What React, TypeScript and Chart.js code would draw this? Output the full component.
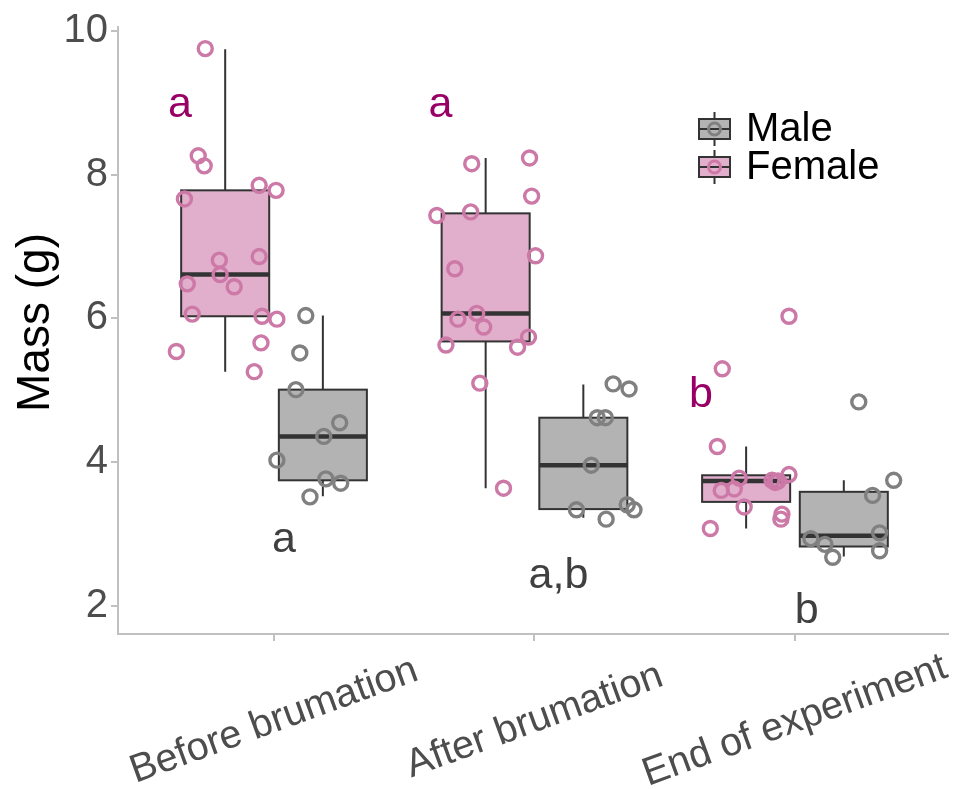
import React, { useEffect, useRef } from 'react';
import { Chart, registerables } from 'chart.js';

Chart.register(...registerables);

const categories = ['Before brumation', 'After brumation', 'End of experiment'];
const yTicks = [2, 4, 6, 8, 10];
const yTitle = 'Mass (g)';

// box stats per category: [lower whisker, q1, median, q3, upper whisker]
const femaleBoxes = [
  [5.26, 6.03, 6.61, 7.78, 9.74],
  [3.64, 5.68, 6.07, 7.46, 8.23],
  [3.08, 3.45, 3.74, 3.82, 4.22],
];
const maleBoxes = [
  [3.53, 3.75, 4.36, 5.01, 6.04],
  [3.23, 3.35, 3.96, 4.62, 5.08],
  [2.69, 2.83, 2.98, 3.59, 3.75],
];

// jittered individual observations (x in category units)
const femaleX = [
  0.736, 0.709, 0.732, 0.943, 1.008, 0.656, 0.943, 0.79, 0.793, 0.667, 0.847, 0.686, 0.954, 1.011, 0.95, 0.625, 0.924,
  1.759, 1.981, 1.989, 1.625, 1.755, 2.004, 1.694, 1.706, 1.778, 1.805, 1.66, 1.935, 1.977, 1.79, 1.881,
  2.977, 2.721, 2.702, 2.786, 2.717, 2.767, 2.912, 2.935, 2.924, 2.977, 2.805, 2.95, 2.946, 2.675,
];
const femaleY = [
  9.75, 8.26, 8.12, 7.85, 7.78, 7.66, 6.86, 6.81, 6.61, 6.48, 6.44, 6.06, 6.03, 5.99, 5.66, 5.54, 5.26,
  8.15, 8.23, 7.7, 7.43, 7.48, 6.87, 6.69, 5.99, 6.07, 5.88, 5.63, 5.6, 5.74, 5.1, 3.64,
  6.03, 5.3, 4.22, 3.78, 3.61, 3.63, 3.75, 3.74, 3.72, 3.83, 3.38, 3.28, 3.21, 3.08,
];
const maleX = [
  1.122, 1.099, 1.084, 1.252, 1.191, 1.011, 1.199, 1.256, 1.138,
  2.302, 2.363, 2.241, 2.272, 2.218, 2.161, 2.356, 2.382, 2.275,
  3.245, 3.379, 3.298, 3.325, 3.325, 3.061, 3.115, 3.145,
];
const maleY = [
  6.04, 5.52, 5.01, 4.55, 4.36, 4.03, 3.77, 3.71, 3.52,
  5.09, 5.02, 4.62, 4.62, 3.96, 3.34, 3.41, 3.34, 3.21,
  4.84, 3.75, 3.54, 3.02, 2.77, 2.94, 2.86, 2.68,
];

// significance letters (baseline positions in data units)
const femaleLetters = ['a', 'a', 'b'];
const femaleLetterX = [0.639, 1.639, 2.639];
const femaleLetterY = [8.8, 8.8, 4.77];
const maleLetters = ['a', 'a,b', 'b'];
const maleLetterX = [1.038, 2.092, 3.045];
const maleLetterY = [2.76, 2.26, 1.77];

const FONT = '"Liberation Sans", Arial, Helvetica, sans-serif';
const PINK_FILL = '#E1AECB';
const GRAY_FILL = '#B3B3B3';
const PINK_PT = '#CC79A7';
const GRAY_PT = '#808080';
const BOX_LINE = '#333333';
const AXIS = '#C0C0C0';
const FEMALE_OFF = -0.1875;
const MALE_OFF = 0.1875;
const HALF_W = 0.169;

const boxPlugin = {
  id: 'boxes',
  beforeDatasetsDraw(chart: any) {
    const { ctx, scales } = chart;
    const x = scales.x;
    const y = scales.y;
    const drawGroup = (boxes: number[][], off: number, fill: string) => {
      boxes.forEach((b, i) => {
        const c = i + 1 + off;
        const cx = x.getPixelForValue(c);
        const x0 = x.getPixelForValue(c - HALF_W);
        const x1 = x.getPixelForValue(c + HALF_W);
        const [lo, q1, med, q3, hi] = b.map((v) => y.getPixelForValue(v));
        ctx.save();
        ctx.strokeStyle = BOX_LINE;
        ctx.lineWidth = 2;
        ctx.beginPath();
        ctx.moveTo(cx, q3);
        ctx.lineTo(cx, hi);
        ctx.moveTo(cx, q1);
        ctx.lineTo(cx, lo);
        ctx.stroke();
        ctx.fillStyle = fill;
        ctx.fillRect(x0, q3, x1 - x0, q1 - q3);
        ctx.strokeRect(x0, q3, x1 - x0, q1 - q3);
        ctx.lineWidth = 4.5;
        ctx.beginPath();
        ctx.moveTo(x0, med);
        ctx.lineTo(x1, med);
        ctx.stroke();
        ctx.restore();
      });
    };
    drawGroup(femaleBoxes, FEMALE_OFF, PINK_FILL);
    drawGroup(maleBoxes, MALE_OFF, GRAY_FILL);
  },
  afterDatasetsDraw(chart: any) {
    const { ctx, scales } = chart;
    const x = scales.x;
    const y = scales.y;
    ctx.save();
    ctx.font = `43px ${FONT}`;
    ctx.textAlign = 'center';
    ctx.textBaseline = 'alphabetic';
    ctx.fillStyle = '#990066';
    femaleLetters.forEach((t, i) => {
      ctx.fillText(t, x.getPixelForValue(femaleLetterX[i]), y.getPixelForValue(femaleLetterY[i]));
    });
    ctx.fillStyle = '#404040';
    maleLetters.forEach((t, i) => {
      ctx.fillText(t, x.getPixelForValue(maleLetterX[i]), y.getPixelForValue(maleLetterY[i]));
    });
    ctx.restore();
  },
  afterDraw(chart: any) {
    const { ctx, scales, chartArea } = chart;
    const x = scales.x;
    // rotated category labels, centred on their ticks
    ctx.save();
    ctx.font = `39.5px ${FONT}`;
    ctx.fillStyle = '#4D4D4D';
    ctx.textAlign = 'center';
    ctx.textBaseline = 'middle';
    categories.forEach((lab, i) => {
      const px = x.getPixelForValue(i + 1);
      ctx.save();
      ctx.translate(px, chartArea.bottom + 87);
      ctx.rotate((-20 * Math.PI) / 180);
      ctx.fillText(lab, 0, 0);
      ctx.restore();
    });
    ctx.restore();

    // y axis title
    ctx.save();
    ctx.font = `46px ${FONT}`;
    ctx.fillStyle = '#000000';
    ctx.textAlign = 'center';
    ctx.textBaseline = 'middle';
    ctx.translate(36, (chartArea.top + chartArea.bottom) / 2 - 8);
    ctx.rotate(-Math.PI / 2);
    ctx.fillText(yTitle, 0, 0);
    ctx.restore();

    // legend
    const items = [
      { label: 'Male', fill: GRAY_FILL, pt: GRAY_PT },
      { label: 'Female', fill: PINK_FILL, pt: PINK_PT },
    ];
    const kx = 699;
    const kw = 31;
    const ky0 = 110;
    const rowH = 38;
    ctx.save();
    items.forEach((it, i) => {
      const top = ky0 + i * rowH;
      const cy = top + rowH / 2;
      const cx = kx + kw / 2;
      ctx.strokeStyle = BOX_LINE;
      ctx.lineWidth = 2;
      ctx.beginPath();
      ctx.moveTo(cx, top + 2);
      ctx.lineTo(cx, top + rowH - 2);
      ctx.stroke();
      ctx.fillStyle = it.fill;
      ctx.fillRect(kx, cy - 10, kw, 20);
      ctx.strokeRect(kx, cy - 10, kw, 20);
      ctx.beginPath();
      ctx.moveTo(kx, cy);
      ctx.lineTo(kx + kw, cy);
      ctx.stroke();
      ctx.strokeStyle = it.pt;
      ctx.lineWidth = 3;
      ctx.beginPath();
      ctx.arc(cx, cy, 6, 0, Math.PI * 2);
      ctx.stroke();
      ctx.fillStyle = '#000000';
      ctx.font = `40px ${FONT}`;
      ctx.textAlign = 'left';
      ctx.textBaseline = 'middle';
      ctx.fillText(it.label, kx + kw + 16, cy + 1);
    });
    ctx.restore();
  },
};

export default function App() {
  const ref = useRef<HTMLCanvasElement | null>(null);
  useEffect(() => {
    document.body.style.margin = '0';
    const canvas = ref.current;
    if (!canvas) return;
    const ptCommon = {
      backgroundColor: 'rgba(0,0,0,0)',
      pointRadius: 7,
      pointHoverRadius: 7,
      pointBorderWidth: 3.4,
      pointHoverBorderWidth: 3.4,
      showLine: false,
    };
    const chart = new Chart(canvas, {
      type: 'scatter',
      data: {
        datasets: [
          {
            label: 'Female',
            data: femaleX.map((v, i) => ({ x: v, y: femaleY[i] })),
            borderColor: PINK_PT,
            ...ptCommon,
          },
          {
            label: 'Male',
            data: maleX.map((v, i) => ({ x: v, y: maleY[i] })),
            borderColor: GRAY_PT,
            ...ptCommon,
          },
        ],
      },
      options: {
        responsive: false,
        animation: false,
        events: [],
        layout: { padding: { top: 12, right: 0, left: 0, bottom: 0 } },
        plugins: { legend: { display: false }, tooltip: { enabled: false } },
        scales: {
          x: {
            type: 'linear',
            min: 0.401,
            max: 3.586,
            afterBuildTicks: (s: any) => {
              s.ticks = [1, 2, 3].map((v) => ({ value: v }));
            },
            afterFit: (s: any) => {
              s.height = 155;
            },
            ticks: { display: false },
            grid: { display: true, drawOnChartArea: false, drawTicks: true, tickLength: 7, color: AXIS, lineWidth: 2 },
            border: { display: true, color: AXIS, width: 2 },
          },
          y: {
            type: 'linear',
            min: 1.614,
            max: 10.05,
            afterBuildTicks: (s: any) => {
              s.ticks = yTicks.map((v) => ({ value: v }));
            },
            afterFit: (s: any) => {
              s.width = 118;
            },
            ticks: { color: '#4D4D4D', font: { family: FONT, size: 40 }, padding: 3 },
            grid: { display: true, drawOnChartArea: false, drawTicks: true, tickLength: 7, color: AXIS, lineWidth: 2 },
            border: { display: true, color: AXIS, width: 2 },
          },
        },
      },
      plugins: [boxPlugin],
    } as any);
    return () => chart.destroy();
  }, []);
  return <canvas ref={ref} width={958} height={789} style={{ display: 'block' }} />;
}
